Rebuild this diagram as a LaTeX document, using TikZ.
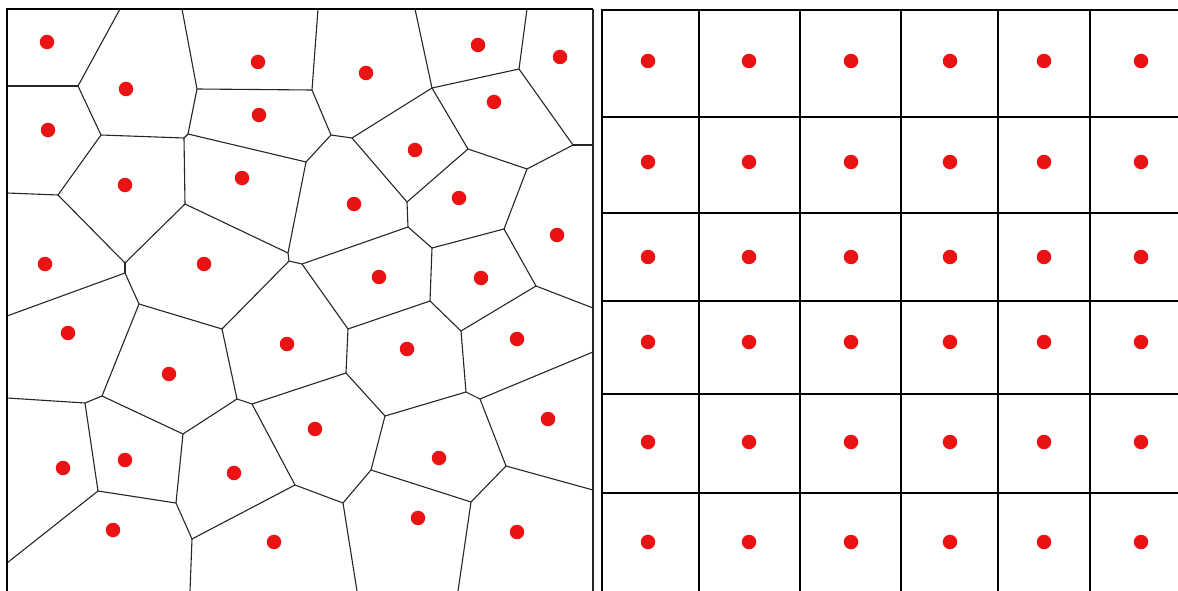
\documentclass[tikz,border=0pt]{standalone}
\definecolor{dotred}{RGB}{234,18,18}
\begin{document}
\begin{tikzpicture}[x=1pt,y=-1pt,
  site/.style={circle,fill=dotred,inner sep=0pt,minimum size=14.5pt},
  cell/.style={line width=1.1pt,black!85},
  frame/.style={line width=2.8pt,black}]
  \useasboundingbox (0,0) rectangle (1178,591);
  % left panel: irregular cells
  \foreach \n/\px/\py in {a/78/86, b/101/135, c/184/138, d/197/89, e/312/90,%
    f/188/134, g/331/135, h/352/138, i/306/162, j/288/253, jj/289/261,%
    k/185/204, l/125/263, m/58/195, n/125/273, p/432/88, q/519/69,%
    r/573/145, s/468/149, t/527/169, u/407/202, v/408/227, w/302/264,%
    x/432/248, y/504/229, z/536/286, aa/139/304, ab/222/329, ac/102/396,%
    ad/85/403, ae/183/434, af/237/399, ag/252/404, ah/346/373, ai/295/485,%
    aj/98/491, ak/176/503, al/192/539, am/348/329, an/430/301, ao/461/331,%
    ap/466/392, aq/480/399, ar/385/416, as/506/466, at/371/470, au/343/503,%
    av/471/502,%
    t1/120/9, t2/182/9, t3/318/9, t4/415/9, t5/527/9,%
    l1/7/86, l2/7/193, l3/7/316, l4/7/398, l5/7/563,%
    r1/593/145, r2/593/308, r3/593/352, r4/593/490,%
    b1/190/591, b2/357/591, b3/458/591}
    \coordinate (\n) at (\px,\py);
  \foreach \a/\b in {t1/a, l1/a, a/b, b/c, c/f, t2/d, d/e, d/f, f/i, e/g,%
    t3/e, g/i, g/h, h/p, t4/p, p/q, t5/q, q/r, r/r1, p/s, s/t, t/r, s/u,%
    h/u, u/v, v/w, w/jj, jj/j, i/j, c/k, k/j, k/l, b/m, m/l2, m/l, l/n,%
    n/l3, n/aa, aa/ab, jj/ab, aa/ac, ac/ad, ad/l4, ac/ae, ab/af, af/ae,%
    af/ag, ag/ah, ag/ai, ad/aj, aj/ak, ae/ak, ak/al, al/ai, al/b1, aj/l5,%
    w/am, v/x, x/y, t/y, y/z, z/r2, z/ao, x/an, am/an, an/ao, am/ah,%
    ao/ap, ap/aq, aq/r3, ah/ar, ar/ap, aq/as, as/r4, ar/at, at/au, ai/au,%
    au/b2, at/av, av/as, av/b3}
    \draw[cell] (\a) -- (\b);
  \draw[frame] (7,591) -- (7,9) -- (593,9);
  \draw[cell] (593,9) -- (593,591);
  \foreach \px/\py [count=\k] in {47/42, 126/89, 258/62, 366/73, 478/45,%
    560/57, 48/130, 259/115, 494/102, 125/185, 242/178, 415/150, 354/204,%
    459/198, 557/235, 45/264, 204/264, 379/277, 481/278, 68/333, 287/344,%
    407/349, 517/339, 169/374, 548/419, 315/429, 63/468, 125/460, 234/473,%
    439/458, 113/530, 274/542, 418/518, 517/532}
    \node[site] (p\k) at (\px,\py) {};
  % right panel: regular grid
  \foreach \gx in {699,800,901,998,1090} \draw[frame] (\gx,10) -- (\gx,591);
  \foreach \gy in {117,213,301,394,493} \draw[frame] (602,\gy) -- (1178,\gy);
  \draw[frame] (602,591) -- (602,10) -- (1178,10);
  \foreach \px [count=\i] in {648,749,851,950,1044,1141}
    \foreach \py [count=\j] in {61,162,257,342,442,542}
      \node[site] (g\i\j) at (\px,\py) {};
\end{tikzpicture}
\end{document}
